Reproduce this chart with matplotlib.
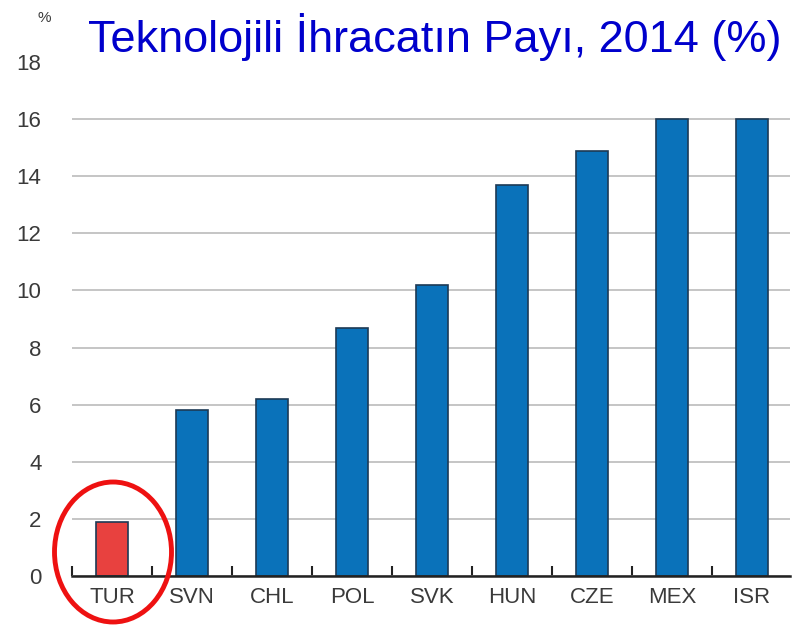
import matplotlib
matplotlib.use("Agg")
import matplotlib.pyplot as plt
from matplotlib.patches import Ellipse

countries = ["TUR", "SVN", "CHL", "POL", "SVK", "HUN", "CZE", "MEX", "ISR"]
values = [1.9, 5.8, 6.2, 8.7, 10.2, 13.7, 14.9, 16.0, 16.0]
highlight = "TUR"
yticks = [0, 2, 4, 6, 8, 10, 12, 14, 16, 18]
title = "Teknolojili İhracatın Payı, 2014 (%)"

plt.rcParams['font.family'] = ['Liberation Sans Narrow', 'Liberation Sans', 'DejaVu Sans']

W, H = 807, 628
fig = plt.figure(figsize=(W / 100, H / 100), dpi=100)
ax = fig.add_axes([72 / W, 1 - 576 / H, (790 - 72) / W, (576 - 62) / H])

x = list(range(len(countries)))
colors = ["#E8413F" if c == highlight else "#0A72BA" for c in countries]
ax.bar(x, values, width=0.4, color=colors, edgecolor="#1d3a55", linewidth=1.2, zorder=3)

ax.set_xlim(-0.5, 8.475)
ax.set_ylim(0, 18)
ax.set_yticks(yticks)
ax.set_yticklabels([str(v) for v in yticks], fontsize=16, color="#3a3a3a")
ax.yaxis.grid(True, color="#bbbbbb", linewidth=1.2, zorder=0)
gl = ax.yaxis.get_gridlines()
gl[-1].set_visible(False)
ax.tick_params(axis='y', length=0, pad=22)

ax.set_xticks(x)
ax.set_xticklabels(countries, fontsize=16, color="#3a3a3a")
ax.set_xticks([i - 0.5 for i in range(len(countries))], minor=True)
ax.tick_params(axis='x', which='major', length=0, pad=8)
ax.tick_params(axis='x', which='minor', direction='in', length=7, width=1.5, color="#222222")

for s in ["top", "right", "left"]:
    ax.spines[s].set_visible(False)
ax.spines["bottom"].set_linewidth(1.8)
ax.spines["bottom"].set_color("#222222")
ax.spines["bottom"].set_zorder(4)

fig.text(44 / W, 1 - 18 / H, "%", fontsize=11, color="#3a3a3a", ha="center", va="center")
fig.text(88 / W, 1 - 52 / H, title, fontsize=32.5, color="#0000CC",
         family=['Liberation Sans', 'DejaVu Sans'], ha="left", va="baseline")

ell = Ellipse((113 / W, 1 - 552 / H), 117 / W, 140 / H, transform=fig.transFigure,
              fill=False, edgecolor="#EE1111", linewidth=3.5, zorder=10)
fig.patches.append(ell)

fig.savefig("out.png", dpi=100)
